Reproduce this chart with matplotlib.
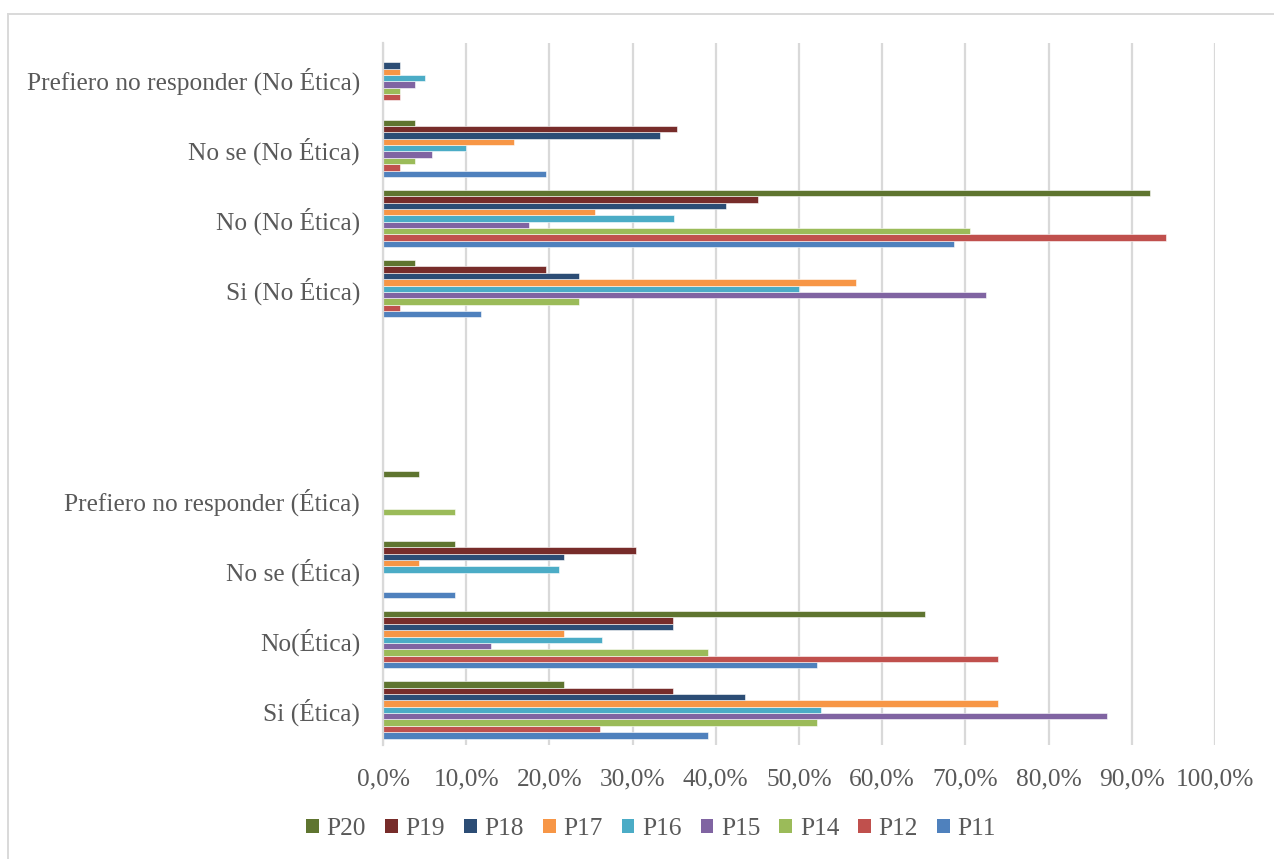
import numpy as np
import matplotlib
matplotlib.use("Agg")
import matplotlib.pyplot as plt
from matplotlib.lines import Line2D
from matplotlib.patches import Patch

plt.rcParams['font.family'] = ['Liberation Serif', 'DejaVu Serif']

# Categories, bottom to top (two blank slots separate the two blocks)
categories = ["Si (Ética)", "No(Ética)", "No se (Ética)", "Prefiero no responder (Ética)",
              "", "", "Si (No Ética)", "No (No Ética)", "No se (No Ética)",
              "Prefiero no responder (No Ética)"]

nan = np.nan
# Percentages per question, in category order
P11 = [39.1, 52.2, 8.7, 0.0, nan, nan, 11.8, 68.6, 19.6, 0.0]
P12 = [26.1, 73.9, 0.0, 0.0, nan, nan, 2.0, 94.1, 2.0, 2.0]
P14 = [52.2, 39.1, 0.0, 8.7, nan, nan, 23.5, 70.6, 3.9, 2.0]
P15 = [87.0, 13.0, 0.0, 0.0, nan, nan, 72.5, 17.6, 5.9, 3.9]
P16 = [52.6, 26.3, 21.1, 0.0, nan, nan, 50.0, 35.0, 10.0, 5.0]
P17 = [73.9, 21.7, 4.3, 0.0, nan, nan, 56.9, 25.5, 15.7, 2.0]
P18 = [43.5, 34.8, 21.7, 0.0, nan, nan, 23.5, 41.2, 33.3, 2.0]
P19 = [34.8, 34.8, 30.4, 0.0, nan, nan, 19.6, 45.1, 35.3, 0.0]
P20 = [21.7, 65.2, 8.7, 4.3, nan, nan, 3.9, 92.2, 3.9, 0.0]

series_names = ["P11", "P12", "P14", "P15", "P16", "P17", "P18", "P19", "P20"]
series_values = [P11, P12, P14, P15, P16, P17, P18, P19, P20]
series_colors = ["#4F81BD", "#C0504D", "#9BBB59", "#8064A2", "#4BACC6",
                 "#F79646", "#2C4D75", "#772C2A", "#5F7530"]

x_ticks = np.arange(0, 101, 10)
x_tick_labels = [f"{v:.1f}%".replace(".", ",") for v in x_ticks]

text_color = "#595959"
grid_color = "#D9D9D9"
font_size = 18.3

W, H = 1274, 859
fig = plt.figure(figsize=(W / 100, H / 100), dpi=100)
ax = fig.add_axes([383 / W, 1 - 745 / H, (1215 - 383) / W, (745 - 43) / H])

n = len(series_names)
bar_h = 1.0 / (n + 2)          # gap equal to two bar widths
y = np.arange(len(categories))
for i, (name, vals, col) in enumerate(zip(series_names, series_values, series_colors)):
    v = np.array(vals, dtype=float)
    ax.barh(y + (i - (n - 1) / 2) * bar_h, v, height=bar_h, color=col,
            edgecolor="white", linewidth=0.4, label=name, zorder=3)

ax.set_xlim(0, 100)
ax.set_ylim(-0.5, len(categories) - 0.5)
ax.set_xticks(x_ticks)
ax.set_xticklabels(x_tick_labels)
ax.set_yticks(y)
ax.set_yticklabels(categories)
ax.tick_params(axis="both", length=0, labelsize=font_size, labelcolor=text_color)
ax.tick_params(axis="x", pad=17)
ax.tick_params(axis="y", pad=16.5)
ax.xaxis.grid(True, color=grid_color, linewidth=1.6, zorder=0)
ax.set_axisbelow(True)
for s in ["top", "right", "bottom"]:
    ax.spines[s].set_visible(False)
ax.spines["left"].set_color(grid_color)
ax.spines["left"].set_linewidth(1.6)
ax.spines["left"].set_zorder(4)

# Chart-area border (left and top edges visible)
fig.add_artist(Line2D([8 / W, 8 / W], [0, 1 - 14 / H], transform=fig.transFigure,
                      color=grid_color, linewidth=1.4))
fig.add_artist(Line2D([8 / W, 1], [1 - 14 / H, 1 - 14 / H], transform=fig.transFigure,
                      color=grid_color, linewidth=1.4))

handles = [Patch(facecolor=c, label=nm) for nm, c in zip(series_names, series_colors)][::-1]
leg = fig.legend(handles=handles, loc="center", bbox_to_anchor=(651 / W, 1 - 829 / H),
                 ncol=n, frameon=False, fontsize=font_size, handlelength=0.5, handleheight=0.5,
                 handletextpad=0.3, columnspacing=0.75, labelcolor=text_color)

fig.savefig("out.png", dpi=100, facecolor="white")
